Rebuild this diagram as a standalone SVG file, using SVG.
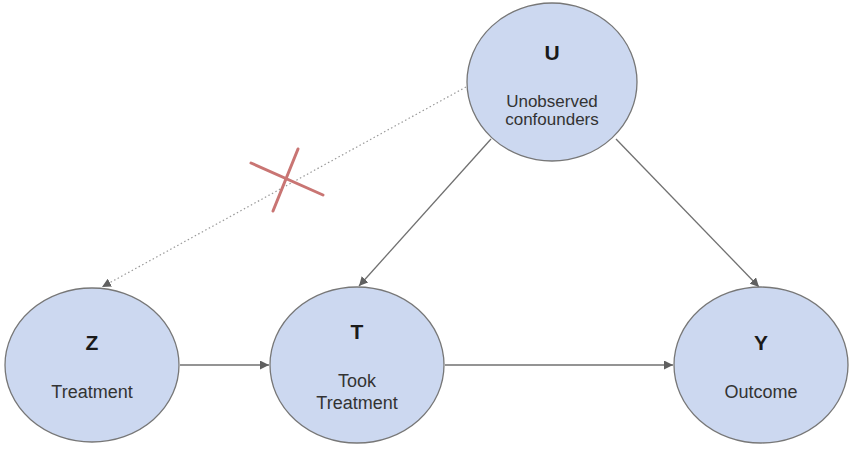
<svg xmlns="http://www.w3.org/2000/svg" width="866" height="454" viewBox="0 0 866 454">
<style>
.node ellipse{fill:#ccd8f0;stroke:#777;stroke-width:1.3}
.lt{font-family:"Liberation Sans",Arial,sans-serif;font-weight:bold;font-size:21px;fill:#1a1a1a;text-anchor:middle}
.lb{font-family:"Liberation Sans",Arial,sans-serif;font-size:18px;fill:#333;text-anchor:middle}
.lu{font-size:17px}
.edge{stroke:#707070;stroke-width:1.3;fill:none}
.dot{stroke:#999;stroke-width:1.2;stroke-dasharray:1.5 2.5;fill:none}
.x{stroke:#c97573;stroke-width:3;stroke-linecap:round}
</style>
<defs>
<marker id="ah" viewBox="0 0 10 10" refX="10" refY="5" markerWidth="9" markerHeight="9" markerUnits="userSpaceOnUse" orient="auto">
<path d="M0,0 L10,5 L0,10 z" fill="#606060"/>
</marker>
</defs>
<rect width="866" height="454" fill="#fff"/>
<g id="connectors">
<line class="dot" x1="466" y1="87" x2="102" y2="287" marker-end="url(#ah)"/>
<line class="edge" x1="180" y1="365" x2="269" y2="365" marker-end="url(#ah)"/>
<line class="edge" x1="445" y1="365" x2="673" y2="365" marker-end="url(#ah)"/>
<line class="edge" x1="491" y1="139" x2="359" y2="286" marker-end="url(#ah)"/>
<line class="edge" x1="616" y1="139" x2="759" y2="287" marker-end="url(#ah)"/>
</g>
<g id="cross">
<line class="x" x1="251" y1="163" x2="323" y2="195"/>
<line class="x" x1="298" y1="149" x2="273" y2="211"/>
</g>
<g id="U" class="node">
<ellipse cx="552" cy="82" rx="85" ry="79"/>
<text class="lt" x="552" y="60">U</text>
<text class="lb lu" x="552" y="107">Unobserved</text>
<text class="lb lu" x="552" y="125">confounders</text>
</g>
<g id="Z" class="node">
<ellipse cx="92" cy="365" rx="87" ry="77"/>
<text class="lt" x="92" y="350">Z</text>
<text class="lb" x="92" y="398">Treatment</text>
</g>
<g id="T" class="node">
<ellipse cx="357" cy="365" rx="87" ry="78"/>
<text class="lt" x="357" y="339">T</text>
<text class="lb" x="357" y="387">Took</text>
<text class="lb" x="357" y="409">Treatment</text>
</g>
<g id="Y" class="node">
<ellipse cx="761" cy="365" rx="87" ry="78"/>
<text class="lt" x="761" y="350">Y</text>
<text class="lb" x="761" y="398">Outcome</text>
</g>
</svg>
